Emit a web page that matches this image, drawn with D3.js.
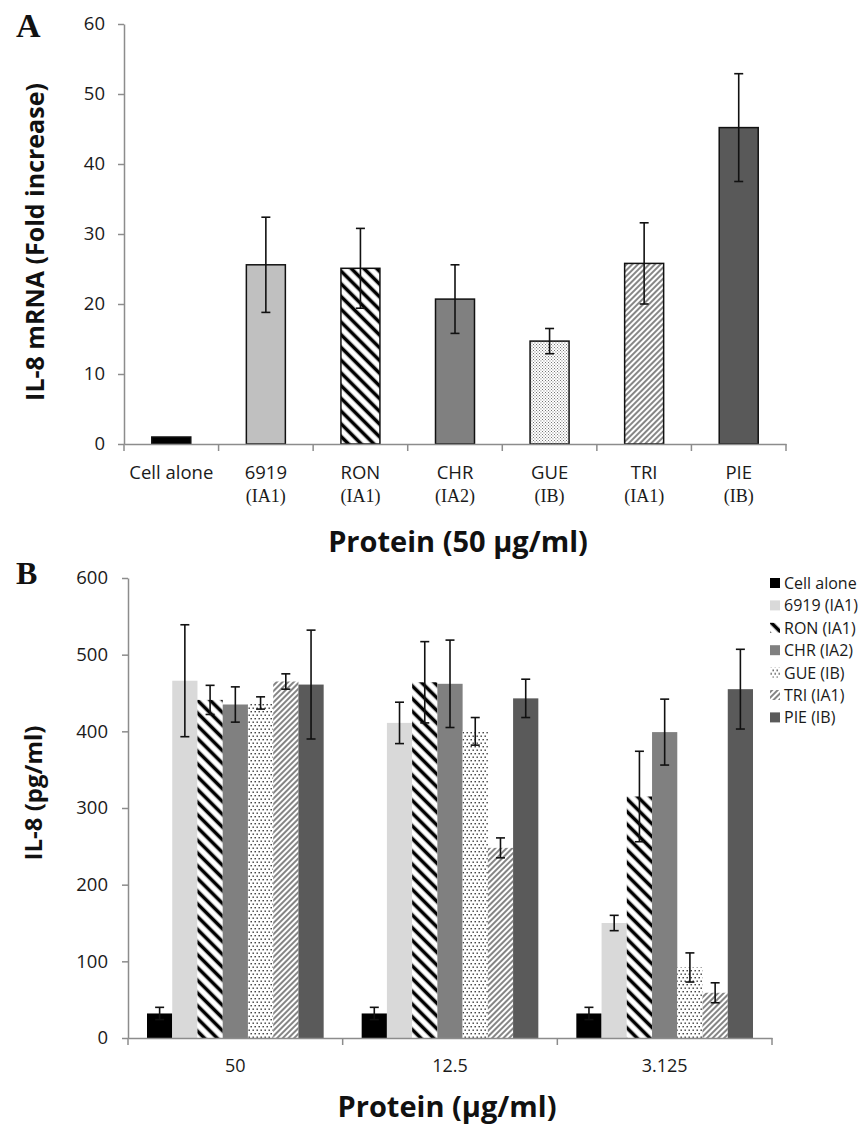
<!DOCTYPE html>
<html>
<head>
<meta charset="utf-8">
<script src="https://cdn.jsdelivr.net/npm/d3@7"></script>
<style>
  body { margin: 0; background: #fff; }
  svg { display: block; }
</style>
</head>
<body>
<svg id="chart"></svg>
<script>
// ---- Panel A data: IL-8 mRNA fold increase at 50 µg/ml
const proteinsA = ["Cell alone", "6919", "RON", "CHR", "GUE", "TRI", "PIE"];
const subtypesA = ["", "(IA1)", "(IA1)", "(IA2)", "(IB)", "(IA1)", "(IB)"];
const foldA = [1.0, 25.6, 25.1, 20.7, 14.7, 25.8, 45.2];
const foldErrA = [0, 6.8, 5.7, 4.9, 1.8, 5.8, 7.7];
const ticksA = [0, 10, 20, 30, 40, 50, 60];

// ---- Panel B data: IL-8 pg/ml by protein concentration
const concentrations = ["50", "12.5", "3.125"];
const seriesB = ["Cell alone", "6919 (IA1)", "RON (IA1)", "CHR (IA2)", "GUE (IB)", "TRI (IA1)", "PIE (IB)"];
const cellAloneB = [32, 32, 32];
const s6919B = [466, 411, 150];
const ronB = [441, 464, 315];
const chrB = [435, 462, 399];
const gueB = [437, 400, 92];
const triB = [465, 248, 59];
const pieB = [461, 443, 455];
const cellAloneErr = [8, 8, 8];
const s6919Err = [73, 27, 10];
const ronErr = [19, 53, 59];
const chrErr = [23, 57, 43];
const gueErr = [8, 18, 19];
const triErr = [10, 13, 13];
const pieErr = [71, 25, 52];
const ticksB = [0, 100, 200, 300, 400, 500, 600];

const width = 862, height = 1128;
const axisColor = "#8c8c8c";
const sansFont = "'Open Sans', 'DejaVu Sans', sans-serif";
const serifFont = "'Liberation Serif', 'Times New Roman', serif";

const svg = d3.select("#chart")
    .attr("width", width)
    .attr("height", height);
svg.append("rect").attr("width", width).attr("height", height).attr("fill", "#fff");

const defs = svg.append("defs");

// stripes pattern (angle 45 -> "/", -45 -> "\")
function stripes(id, size, lineW, angle, color) {
    const p = defs.append("pattern")
        .attr("id", id)
        .attr("patternUnits", "userSpaceOnUse")
        .attr("width", size).attr("height", size)
        .attr("patternTransform", `rotate(${angle})`);
    p.append("rect").attr("width", size).attr("height", size).attr("fill", "#fff");
    p.append("line")
        .attr("x1", size / 2).attr("x2", size / 2)
        .attr("y1", 0).attr("y2", size)
        .attr("stroke", color).attr("stroke-width", lineW);
}

// staggered dots pattern
function dots(id, w, h, s, color) {
    const p = defs.append("pattern")
        .attr("id", id)
        .attr("patternUnits", "userSpaceOnUse")
        .attr("width", w).attr("height", h);
    p.append("rect").attr("width", w).attr("height", h).attr("fill", "#fff");
    p.append("rect").attr("x", 0.5).attr("y", 0.5).attr("width", s).attr("height", s).attr("fill", color);
    p.append("rect").attr("x", w / 2 + 0.5).attr("y", h / 2 + 0.5).attr("width", s).attr("height", s).attr("fill", color);
}

stripes("ronA", 9, 3.6, -45, "#000");
stripes("triA", 4, 1.1, 45, "#222");
dots("gueA", 3, 3, 0.9, "#555");
stripes("ronB", 9, 3.6, -45, "#000");
stripes("triB", 4, 1.2, 45, "#333");
dots("gueB", 4, 7, 1.4, "#333");

const fillsA = ["#000", "#c0c0c0", "url(#ronA)", "#808080", "url(#gueA)", "url(#triA)", "#595959"];
const fillsB = ["#000", "#d9d9d9", "url(#ronB)", "#808080", "url(#gueB)", "url(#triB)", "#5a5a5a"];

// ================= Panel A =================
const xA = d3.scaleBand().domain(proteinsA).range([124, 786]).padding(0);
const yA = d3.scaleLinear().domain([0, 60]).range([444, 24]);
const barWA = 39;

const gA = svg.append("g");

// y axis
gA.append("g")
    .attr("transform", `translate(${xA.range()[0]},0)`)
    .call(d3.axisLeft(yA).tickValues(ticksA).tickSize(6).tickSizeOuter(0).tickPadding(13))
    .call(g => g.select(".domain").attr("stroke", axisColor).attr("stroke-width", 1.5))
    .call(g => g.selectAll(".tick line").attr("stroke", axisColor).attr("stroke-width", 1.5))
    .call(g => g.selectAll(".tick text")
        .attr("font-family", sansFont).attr("font-size", 18.5).attr("fill", "#1a1a1a"));

// bars
const dataA = proteinsA.map((p, i) => ({ p, v: foldA[i], e: foldErrA[i], fill: fillsA[i] }));
gA.selectAll("rect.bar")
    .data(dataA)
    .join("rect")
    .attr("class", "bar")
    .attr("x", d => xA(d.p) + xA.bandwidth() / 2 - barWA / 2)
    .attr("width", barWA)
    .attr("y", d => yA(d.v))
    .attr("height", d => yA(0) - yA(d.v))
    .attr("fill", d => d.fill)
    .attr("stroke", "#111")
    .attr("stroke-width", 1.5);

// x axis
gA.append("g")
    .attr("transform", `translate(0,${yA(0)})`)
    .call(d3.axisBottom(xA).tickSize(0).tickSizeOuter(0).tickFormat(""))
    .call(g => g.select(".domain").attr("stroke", axisColor).attr("stroke-width", 1.5));

const edgesA = proteinsA.map(p => xA(p)).concat([xA.range()[1]]);
gA.selectAll("line.xtick")
    .data(edgesA)
    .join("line")
    .attr("x1", d => d).attr("x2", d => d)
    .attr("y1", yA(0)).attr("y2", yA(0) + 7)
    .attr("stroke", axisColor).attr("stroke-width", 1.5);

// error bars A
const errA = gA.selectAll("g.err").data(dataA.filter(d => d.e > 0)).join("g").attr("class", "err");
errA.append("line")
    .attr("x1", d => xA(d.p) + xA.bandwidth() / 2).attr("x2", d => xA(d.p) + xA.bandwidth() / 2)
    .attr("y1", d => yA(d.v + d.e)).attr("y2", d => yA(d.v - d.e))
    .attr("stroke", "#111").attr("stroke-width", 1.6);
[1, -1].forEach(s => {
    errA.append("line")
        .attr("x1", d => xA(d.p) + xA.bandwidth() / 2 - 4.5).attr("x2", d => xA(d.p) + xA.bandwidth() / 2 + 4.5)
        .attr("y1", d => yA(d.v + s * d.e)).attr("y2", d => yA(d.v + s * d.e))
        .attr("stroke", "#111").attr("stroke-width", 1.6);
});

// category labels
gA.selectAll("text.cat")
    .data(proteinsA)
    .join("text")
    .attr("class", "cat")
    .attr("x", d => xA(d) + xA.bandwidth() / 2)
    .attr("y", 479)
    .attr("text-anchor", "middle")
    .attr("font-family", sansFont)
    .attr("font-size", 18.5)
    .attr("fill", "#1a1a1a")
    .text(d => d);
gA.selectAll("text.sub")
    .data(proteinsA.map((p, i) => ({ p, s: subtypesA[i] })))
    .join("text")
    .attr("class", "sub")
    .attr("x", d => xA(d.p) + xA.bandwidth() / 2)
    .attr("y", 502)
    .attr("text-anchor", "middle")
    .attr("font-family", serifFont)
    .attr("font-size", 18)
    .attr("fill", "#1a1a1a")
    .text(d => d.s);

// titles A
gA.append("text")
    .attr("transform", "translate(44,242) rotate(-90)")
    .attr("text-anchor", "middle")
    .attr("font-family", sansFont)
    .attr("font-weight", "bold")
    .attr("font-size", 25)
    .attr("fill", "#111")
    .text("IL-8 mRNA (Fold increase)");
gA.append("text")
    .attr("x", 458).attr("y", 552)
    .attr("text-anchor", "middle")
    .attr("font-family", sansFont)
    .attr("font-weight", "bold")
    .attr("font-size", 29)
    .attr("fill", "#111")
    .text("Protein (50 µg/ml)");
gA.append("text")
    .attr("x", 16).attr("y", 37)
    .attr("font-family", serifFont)
    .attr("font-weight", "bold")
    .attr("font-size", 34)
    .attr("fill", "#111")
    .text("A");

// ================= Panel B =================
const valuesB = [cellAloneB, s6919B, ronB, chrB, gueB, triB, pieB];
const errorsB = [cellAloneErr, s6919Err, ronErr, chrErr, gueErr, triErr, pieErr];

const x0 = d3.scaleBand().domain(concentrations).range([128, 772]).padding(0);
const x1 = d3.scaleBand().domain(seriesB).range([19, x0.bandwidth() - 19]).padding(0);
const yB = d3.scaleLinear().domain([0, 600]).range([1038, 578]);

const gB = svg.append("g");

gB.append("g")
    .attr("transform", `translate(${x0.range()[0]},0)`)
    .call(d3.axisLeft(yB).tickValues(ticksB).tickSize(6).tickSizeOuter(0).tickPadding(14))
    .call(g => g.select(".domain").attr("stroke", axisColor).attr("stroke-width", 1.5))
    .call(g => g.selectAll(".tick line").attr("stroke", axisColor).attr("stroke-width", 1.5))
    .call(g => g.selectAll(".tick text")
        .attr("font-family", sansFont).attr("font-size", 18.5).attr("fill", "#1a1a1a"));

const dataB = [];
concentrations.forEach((c, ci) => {
    seriesB.forEach((s, si) => {
        dataB.push({ c, s, v: valuesB[si][ci], e: errorsB[si][ci], fill: fillsB[si] });
    });
});

gB.selectAll("rect.bar")
    .data(dataB)
    .join("rect")
    .attr("class", "bar")
    .attr("x", d => x0(d.c) + x1(d.s))
    .attr("width", x1.bandwidth())
    .attr("y", d => yB(d.v))
    .attr("height", d => yB(0) - yB(d.v))
    .attr("fill", d => d.fill);

gB.append("g")
    .attr("transform", `translate(0,${yB(0)})`)
    .call(d3.axisBottom(x0).tickSize(0).tickSizeOuter(0).tickPadding(21))
    .call(g => g.select(".domain").attr("stroke", axisColor).attr("stroke-width", 1.5))
    .call(g => g.selectAll(".tick text")
        .attr("font-family", sansFont).attr("font-size", 18).attr("fill", "#1a1a1a"));

const edgesB = concentrations.map(c => x0(c)).concat([x0.range()[1]]);
gB.selectAll("line.xtick")
    .data(edgesB)
    .join("line")
    .attr("x1", d => d).attr("x2", d => d)
    .attr("y1", yB(0)).attr("y2", yB(0) + 7)
    .attr("stroke", axisColor).attr("stroke-width", 1.5);

// error bars B
const errB = gB.selectAll("g.err").data(dataB).join("g").attr("class", "err");
const cxB = d => x0(d.c) + x1(d.s) + x1.bandwidth() / 2;
errB.append("line")
    .attr("x1", cxB).attr("x2", cxB)
    .attr("y1", d => yB(d.v + d.e)).attr("y2", d => yB(d.v - d.e))
    .attr("stroke", "#111").attr("stroke-width", 1.6);
[1, -1].forEach(s => {
    errB.append("line")
        .attr("x1", d => cxB(d) - 4.5).attr("x2", d => cxB(d) + 4.5)
        .attr("y1", d => yB(d.v + s * d.e)).attr("y2", d => yB(d.v + s * d.e))
        .attr("stroke", "#111").attr("stroke-width", 1.6);
});

// legend
const legend = gB.append("g").attr("transform", "translate(770,583)");
const items = legend.selectAll("g.item")
    .data(seriesB.map((s, i) => ({ s, fill: fillsB[i] })))
    .join("g")
    .attr("class", "item")
    .attr("transform", (d, i) => `translate(0,${i * 22.4})`);
items.append("rect")
    .attr("x", 0).attr("y", -5).attr("width", 10).attr("height", 10)
    .attr("fill", d => d.fill);
items.append("text")
    .attr("x", 14).attr("y", 6)
    .attr("font-family", sansFont)
    .attr("font-size", 16)
    .attr("fill", "#1a1a1a")
    .text(d => d.s);

// titles B
gB.append("text")
    .attr("transform", "translate(42,793) rotate(-90)")
    .attr("text-anchor", "middle")
    .attr("font-family", sansFont)
    .attr("font-weight", "bold")
    .attr("font-size", 24)
    .attr("fill", "#111")
    .text("IL-8 (pg/ml)");
gB.append("text")
    .attr("x", 447).attr("y", 1117)
    .attr("text-anchor", "middle")
    .attr("font-family", sansFont)
    .attr("font-weight", "bold")
    .attr("font-size", 29)
    .attr("fill", "#111")
    .text("Protein (µg/ml)");
gB.append("text")
    .attr("x", 16).attr("y", 584)
    .attr("font-family", serifFont)
    .attr("font-weight", "bold")
    .attr("font-size", 32)
    .attr("fill", "#111")
    .text("B");
</script>
</body>
</html>
